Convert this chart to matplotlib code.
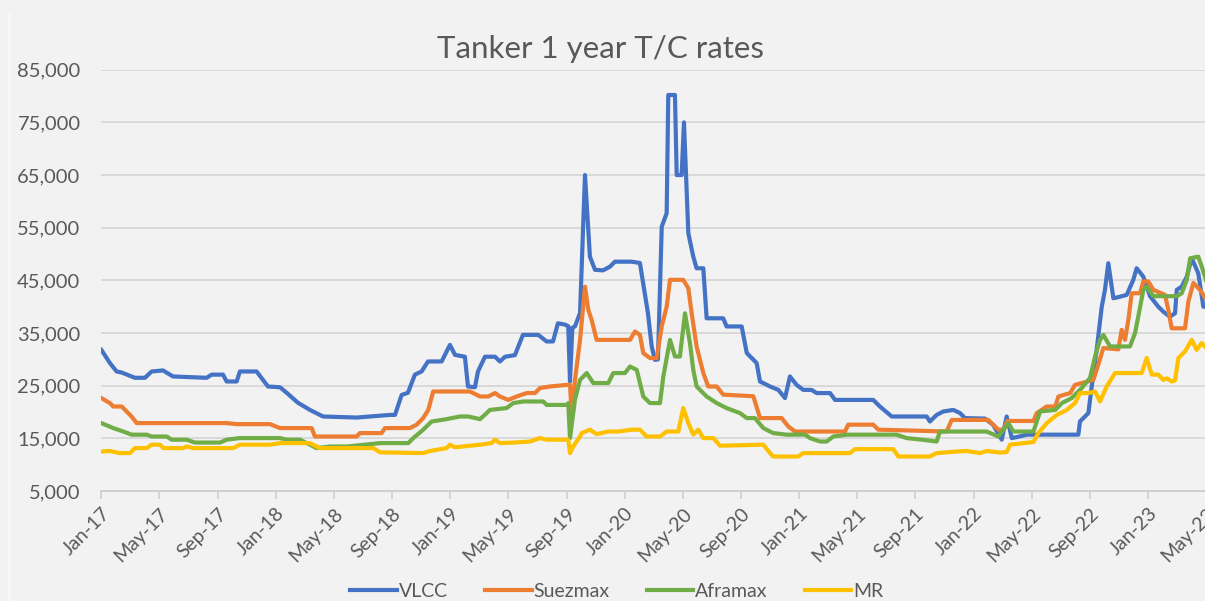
import matplotlib

matplotlib.use("Agg")
import matplotlib.pyplot as plt
from matplotlib.lines import Line2D
from matplotlib.ticker import StrMethodFormatter

# x = months since Jan-2017
vlcc_x = [0.0, 0.59, 1.05, 1.40, 2.31, 3.0, 3.46, 4.24, 4.93, 7.24, 7.59, 8.37, 8.62, 9.31, 9.53,
          10.68, 11.46, 12.29, 12.75, 13.53, 14.35, 15.25, 17.56, 19.85, 20.20, 20.66, 21.09, 21.57,
          22.03, 22.47, 23.41, 23.98, 24.33, 25.01, 25.22, 25.70, 25.91, 26.39, 27.08, 27.42, 27.77,
          28.45, 29.0, 30.06, 30.63, 31.07, 31.41, 31.89, 32.12, 32.24, 32.40, 32.58, 32.93, 33.27,
          33.61, 33.96, 34.51, 34.99, 35.33, 36.48, 37.05, 37.60, 37.86, 38.08, 38.29, 38.55, 38.89,
          39.0, 39.46, 39.58, 39.92, 40.08, 40.38, 40.72, 40.95, 41.41, 41.64, 42.78, 43.01, 44.05,
          44.40, 45.08, 45.31, 46.0, 46.57, 47.03, 47.37, 47.83, 48.29, 48.86, 49.21, 50.13, 50.47,
          53.10, 53.56, 54.37, 56.78, 57.0, 57.46, 57.92, 58.61, 59.07, 59.41, 60.79, 61.34, 61.94,
          62.28, 62.63, 63.08, 63.66, 67.21, 67.32, 67.90, 68.13, 68.47, 68.82, 69.04, 69.27, 69.62,
          70.08, 70.54, 70.99, 71.22, 71.68, 72.14, 72.71, 73.06, 73.51, 73.86, 73.98, 74.32, 74.67,
          75.01, 75.46, 75.81, 76.0]
vlcc_y = [31800, 29300, 27700, 27500, 26500, 26500, 27700, 27900, 26750, 26500, 27100, 27100, 25800,
          25800, 27700, 27700, 24850, 24700, 23650, 21750, 20400, 19150, 18950, 19450, 19450, 23250,
          23650, 27100, 27700, 29600, 29600, 32750, 30850, 30500, 24850, 24700, 27700, 30500, 30500,
          29600, 30500, 30800, 34650, 34650, 33400, 33400, 36850, 36600, 36300, 25800, 36000, 36250,
          38800, 65000, 49500, 47000, 46900, 47600, 48550, 48550, 48300, 38800, 32450, 29900, 30000,
          55200, 57750, 80200, 80200, 65000, 65000, 75000, 53950, 49500, 47300, 47300, 37800, 37800,
          36250, 36250, 31200, 29300, 25800, 24850, 24200, 22650, 26750, 25150, 24200, 24200, 23600,
          23600, 22300, 22300, 21050, 19150, 19150, 18200, 19450, 20100, 20400, 19800, 18850, 18750,
          17600, 14750, 19150, 15050, 15300, 15700, 15700, 18200, 19800, 24850, 31800, 40000, 43200,
          48250, 41600, 41900, 42250, 45100, 47300, 45700, 42000, 40000, 39050, 38100, 38750, 43200,
          43800, 45700, 49200, 46350, 40000, 40000]

suez_x = [0.0, 0.59, 0.82, 1.40, 1.74, 2.08, 2.43, 8.62, 9.31, 11.60, 12.29, 14.47, 14.69, 17.56,
          17.79, 19.28, 19.51, 21.23, 21.69, 22.14, 22.49, 22.83, 25.36, 26.05, 26.62, 27.08, 27.42,
          27.99, 28.57, 29.26, 29.83, 30.17, 30.86, 32.01, 32.24, 32.36, 32.58, 32.93, 33.27, 33.50,
          33.73, 34.07, 36.37, 36.71, 37.05, 37.28, 37.74, 38.20, 38.55, 38.89, 39.12, 40.03, 40.38,
          40.61, 40.95, 41.41, 41.75, 42.33, 42.78, 44.85, 45.31, 46.80, 47.26, 47.72, 51.16, 51.38,
          53.10, 53.45, 58.15, 58.50, 61.01, 61.70, 62.05, 62.33, 64.12, 64.35, 65.04, 65.62, 65.84,
          66.65, 66.98, 68.24, 68.58, 68.93, 69.96, 70.19, 70.42, 70.65, 70.88, 71.45, 71.68, 72.02,
          72.37, 73.17, 73.40, 73.63, 74.55, 74.78, 75.12, 75.58, 75.93, 76.0]
suez_y = [22650, 21700, 21050, 21050, 20100, 19150, 17900, 17900, 17700, 17700, 16950, 16950, 15350,
          15350, 16000, 16000, 16950, 16950, 17600, 18850, 20400, 23900, 23900, 22950, 22950, 23600,
          22950, 22300, 22950, 23600, 23600, 24550, 24850, 25150, 25150, 19500, 26000, 33700, 43800,
          39400, 37500, 33700, 33700, 35300, 34650, 31200, 30250, 30250, 36250, 40000, 45100, 45100,
          43500, 38750, 32450, 27400, 24850, 24850, 23300, 23000, 18850, 18850, 17250, 16300, 16300,
          17600, 17600, 16650, 16300, 18500, 18500, 16650, 16650, 18300, 18300, 19800, 21050, 21050,
          22950, 23600, 25150, 26100, 29000, 32150, 31900, 35600, 33700, 37500, 42550, 42550, 44800,
          44800, 43200, 42250, 39400, 35900, 35900, 41000, 44500, 43200, 41650, 41500]

afra_x = [0.0, 0.82, 1.51, 2.08, 3.12, 3.46, 4.49, 4.84, 5.87, 6.44, 8.16, 8.62, 9.53, 12.29, 12.75,
          13.66, 14.35, 14.81, 15.73, 16.88, 19.17, 21.11, 21.46, 22.14, 22.72, 23.75, 24.67, 25.24,
          26.05, 26.51, 26.73, 27.88, 28.34, 29.02, 30.40, 30.63, 32.01, 32.12, 32.24, 32.58, 32.93,
          33.39, 33.84, 34.87, 35.22, 36.02, 36.37, 36.83, 37.28, 37.74, 38.43, 38.66, 39.12, 39.46,
          39.80, 40.15, 40.49, 40.72, 40.95, 41.64, 42.33, 43.01, 43.93, 44.40, 44.96, 45.54, 46.22,
          47.14, 48.40, 48.75, 49.44, 49.90, 50.35, 51.28, 54.71, 55.40, 56.43, 57.46, 57.69, 60.90,
          61.70, 62.05, 62.39, 62.74, 64.12, 64.58, 65.62, 66.08, 66.75, 67.44, 68.01, 68.36, 68.70,
          68.93, 69.39, 70.76, 71.11, 71.33, 71.68, 71.91, 72.37, 73.98, 74.32, 74.67, 74.90, 75.46,
          75.70, 76.0]
afra_y = [17900, 16950, 16300, 15700, 15700, 15350, 15350, 14750, 14750, 14200, 14200, 14750, 15050,
          15050, 14750, 14750, 13800, 13150, 13450, 13450, 14100, 14100, 15050, 16650, 18200, 18650,
          19150, 19150, 18650, 19800, 20400, 20750, 21700, 22000, 22000, 21350, 21350, 21700, 15050,
          22300, 26100, 27400, 25500, 25500, 27400, 27400, 28650, 28000, 22950, 21700, 21700, 26750,
          33700, 30550, 30550, 38750, 33100, 28000, 24850, 22950, 21700, 20750, 19800, 18850, 18850,
          16950, 16000, 15700, 15700, 15050, 14400, 14400, 15350, 15700, 15700, 15050, 14750, 14400,
          16300, 16300, 15350, 16650, 17900, 16300, 16300, 20100, 20400, 21700, 22650, 24550, 26450,
          30550, 33700, 34650, 32450, 32450, 35000, 38100, 43200, 43800, 42000, 42000, 42550, 45100,
          49200, 49500, 47600, 45000]

mr_x = [0.0, 0.59, 1.25, 1.97, 2.31, 3.12, 3.46, 4.03, 4.26, 5.63, 5.87, 6.32, 9.07, 9.53, 11.60,
        12.29, 14.35, 15.04, 18.71, 19.17, 22.14, 22.61, 23.75, 23.98, 24.33, 26.05, 26.85, 27.08,
        27.42, 28.34, 29.49, 30.17, 30.63, 32.12, 32.24, 32.46, 32.93, 33.04, 33.61, 34.07, 34.87,
        35.56, 36.48, 37.05, 37.51, 38.43, 38.89, 39.69, 40.03, 40.38, 40.72, 41.06, 41.41, 42.10,
        42.56, 45.54, 46.0, 46.22, 47.94, 48.29, 51.50, 51.84, 54.48, 54.82, 57.0, 57.46, 58.84,
        59.53, 60.44, 60.90, 61.82, 62.28, 62.51, 64.12, 64.46, 65.04, 65.73, 66.42, 66.98, 67.32,
        67.90, 68.36, 68.70, 69.16, 69.73, 71.57, 71.91, 72.26, 72.71, 73.06, 73.29, 73.63, 73.86,
        74.09, 74.55, 75.01, 75.35, 75.70, 76.0]
mr_y = [12500, 12600, 12200, 12200, 13150, 13150, 13800, 13800, 13150, 13150, 13450, 13150, 13150,
        13800, 13800, 14100, 14100, 13150, 13150, 12350, 12200, 12600, 13150, 13800, 13300, 13800,
        14100, 14750, 14100, 14200, 14400, 15050, 14750, 14750, 12200, 13450, 15350, 16000, 16650,
        15800, 16300, 16300, 16650, 16650, 15350, 15350, 16300, 16300, 20750, 17900, 15700, 16650,
        15050, 15050, 13600, 13800, 12200, 11550, 11550, 12200, 12200, 12950, 12950, 11550, 11550,
        12200, 12500, 12600, 12200, 12600, 12300, 12400, 13800, 14300, 16000, 17900, 19450, 20400,
        21700, 23600, 23600, 23900, 22000, 24850, 27400, 27400, 30250, 27100, 27100, 26100, 26400,
        25800, 26000, 30250, 31500, 33700, 31800, 33100, 32200]

series = [
    ("VLCC", vlcc_x, vlcc_y, "#4472C4"),
    ("Suezmax", suez_x, suez_y, "#ED7D31"),
    ("Aframax", afra_x, afra_y, "#70AD47"),
    ("MR", mr_x, mr_y, "#FFC000"),
]

tick_labels = ["Jan-17", "May-17", "Sep-17", "Jan-18", "May-18", "Sep-18", "Jan-19", "May-19",
               "Sep-19", "Jan-20", "May-20", "Sep-20", "Jan-21", "May-21", "Sep-21", "Jan-22",
               "May-22", "Sep-22", "Jan-23", "May-23"]
y_ticks = [5000, 15000, 25000, 35000, 45000, 55000, 65000, 75000, 85000]

BG = "#F2F2F2"
TEXT = "#595959"
plt.rcParams["font.family"] = ["Lato", "DejaVu Sans"]

fig = plt.figure(figsize=(12.05, 6.01), dpi=100, facecolor=BG)
# the source picture is cropped on the right, so the axes run past the edge
ax = fig.add_axes([0.0841, 0.183, 0.9289, 0.701])
ax.set_facecolor(BG)

for name, xs, ys, color in series:
    ax.plot(xs, ys, color=color, lw=3.0, label=name, solid_joinstyle="round", zorder=3)

ax.set_xlim(0, 77)
ax.set_ylim(5000, 85000)
ax.set_yticks(y_ticks)
ax.yaxis.set_major_formatter(StrMethodFormatter("{x:,.0f}"))
ax.set_xticks(range(0, 4 * len(tick_labels), 4))
ax.set_xticklabels(tick_labels, rotation=45, ha="right", rotation_mode="anchor")

ax.grid(axis="y", color="#D9D9D9", lw=1.4, zorder=0)
for side in ("left", "right", "top"):
    ax.spines[side].set_visible(False)
ax.spines["bottom"].set_color("#D0D0D0")
ax.spines["bottom"].set_linewidth(1.4)
ax.tick_params(axis="y", length=0, pad=15, labelsize=14.5, labelcolor=TEXT)
ax.tick_params(axis="x", length=6, width=1.2, color="#D0D0D0", pad=4, labelsize=14,
               labelcolor=TEXT)

fig.text(0.498, 0.918, "Tanker 1 year T/C rates", ha="center", va="center",
         fontsize=22.5, color=TEXT)

fig.legend(loc="lower center", bbox_to_anchor=(0.512, -0.027), ncol=4, frameon=False,
           fontsize=14, labelcolor=TEXT, handlelength=2.4, handletextpad=0.1,
           columnspacing=1.9)

fig.add_artist(Line2D([0.0077, 0.0077], [0.0, 0.977], color="#FAFAFA", lw=1.2))

fig.savefig("out.png", dpi=100, facecolor=BG)
